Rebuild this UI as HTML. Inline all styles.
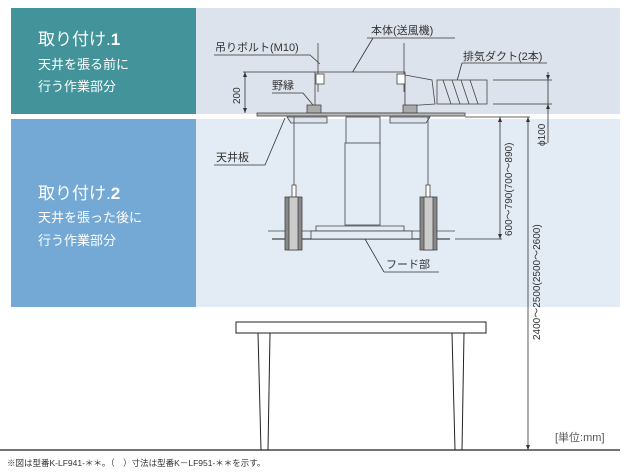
<!DOCTYPE html>
<html><head><meta charset="utf-8"><style>
html,body{margin:0;padding:0;background:#fff;}
svg{display:block;font-family:"Liberation Sans","Noto Sans CJK JP",sans-serif;}
</style></head><body>
<svg width="635" height="475" viewBox="0 0 635 475" xmlns="http://www.w3.org/2000/svg">
<rect x="11" y="8" width="185" height="106" fill="#42939a"/>
<rect x="196" y="8" width="424" height="106" fill="#dde3ec"/>
<rect x="11" y="119" width="185" height="188" fill="#74a9d6"/>
<rect x="196" y="119" width="424" height="188" fill="#e3ebf5"/>
<g fill="#fff">
<text x="38" y="45" font-size="17">取り付け.<tspan font-weight="bold">1</tspan></text>
<text x="38" y="69" font-size="13">天井を張る前に</text>
<text x="38" y="91" font-size="13">行う作業部分</text>
<text x="38" y="199" font-size="17">取り付け.<tspan font-weight="bold">2</tspan></text>
<text x="38" y="222" font-size="13">天井を張った後に</text>
<text x="38" y="245" font-size="13">行う作業部分</text>
</g>
<g font-size="11" fill="#333">
<text x="215" y="51">吊りボルト(M10)</text>
<text x="371" y="34">本体(送風機)</text>
<text x="463" y="60">排気ダクト(2本)</text>
<text x="272" y="89">野縁</text>
<text x="216" y="161">天井板</text>
<text x="386" y="268">フード部</text>
<text x="555" y="441" fill="#555">[単位:mm]</text>
<text x="7" y="466" font-size="8.5">※図は型番K-LF941-＊＊。（　）寸法は型番K－LF951-＊＊を示す。</text>
</g>
<g font-size="10" fill="#333">
<text transform="translate(240,104) rotate(-90)">200</text>
<text transform="translate(545,146) rotate(-90)">ϕ100</text>
<text transform="translate(512,236) rotate(-90)">600～790(700～890)</text>
<text transform="translate(540,340) rotate(-90)">2400～2500(2500～2600)</text>
</g>
<g stroke="#333" stroke-width="0.8" fill="none">
<!-- leaders -->
<polyline points="214,55 310,55 320,64"/>
<polyline points="367,38 455,38"/><line x1="373" y1="38" x2="352" y2="73"/>
<polyline points="462,63 547,63"/><line x1="462" y1="63" x2="455" y2="88"/>
<polyline points="272,93 303,93 313,105"/>
<polyline points="214,165 265,165 285,118"/>
<polyline points="384,272 439,272"/><line x1="384" y1="272" x2="365" y2="239"/>
<!-- dims -->
<line x1="245" y1="72" x2="245" y2="113"/><line x1="243" y1="72" x2="315" y2="72"/>
<line x1="548" y1="72" x2="548" y2="143"/><line x1="493" y1="80" x2="552" y2="80"/><line x1="493" y1="104" x2="552" y2="104"/>
<line x1="500" y1="117" x2="500" y2="239"/><line x1="455" y1="239" x2="502" y2="239"/><line x1="465" y1="117" x2="530" y2="117"/>
<line x1="528" y1="117" x2="528" y2="450"/>
</g>
<g fill="#333">
<path d="M245,72 l-2,5 h4z M245,113 l-2,-5 h4z M548,80 l-2,-5 h4z M548,104 l-2,5 h4z M500,239 l-2,-5 h4z M500,117 l-2,5 h4z M528,117 l-2,5 h4z M528,450 l-2,-5 h4z"/>
</g>
<!-- unit body -->
<g stroke="#444" stroke-width="0.8">
<rect x="315" y="72" width="90" height="41" fill="#dde3ec"/>
<path d="M405,75 L432,80 L435,104 L405,106z" fill="#dde3ec"/>
<rect x="437" y="80" width="50" height="24" fill="#dde3ec"/>
<path d="M443,80 l8,24 M452,80 l8,24 M461,80 l8,24 M470,80 l8,24" fill="none"/>
<line x1="318" y1="43" x2="318" y2="92"/><line x1="404" y1="43" x2="404" y2="92"/>
<rect x="316" y="74" width="8" height="10" fill="#fff"/><rect x="397" y="74" width="8" height="10" fill="#fff"/>
<rect x="307" y="105" width="14" height="8" fill="#aaa"/><rect x="403" y="105" width="14" height="8" fill="#aaa"/>
<rect x="257" y="113" width="208" height="3" fill="#bbb"/>
<path d="M287,117 h40 v6 h-36 z M390,117 h40 l-4,6 h-36z" fill="#dde3ec"/>
<rect x="346" y="117" width="34" height="28" fill="#e3ebf5"/>
<rect x="345" y="143" width="35" height="82" fill="#e3ebf5"/>
<line x1="294" y1="117" x2="294" y2="197"/><line x1="428" y1="117" x2="428" y2="197"/>
<rect x="292" y="185" width="4" height="12" fill="#fff"/><rect x="426" y="185" width="4" height="12" fill="#fff"/>
<path d="M316,231 v-5 h88 v5" fill="#e3ebf5"/>
<line x1="268" y1="231" x2="455" y2="231"/><line x1="272" y1="239" x2="450" y2="239" stroke-width="1.2"/>
<rect x="311" y="231" width="101" height="8" fill="#e3ebf5"/>
<rect x="285" y="197" width="17" height="53" fill="#888"/>
<rect x="289" y="197" width="9" height="53" fill="#ccc"/>
<rect x="420" y="197" width="17" height="53" fill="#888"/>
<rect x="424" y="197" width="9" height="53" fill="#ccc"/>
</g>
<!-- table -->
<g stroke="#222" stroke-width="1">
<rect x="236" y="322" width="250" height="11" fill="#fff"/>
<path d="M258,333 L261,450 M270,333 L268,450 M452,333 L455,450 M464,333 L462,450" fill="none"/>
<line x1="0" y1="450" x2="620" y2="450" stroke-width="1.2"/>
</g>
</svg>
</body></html>
